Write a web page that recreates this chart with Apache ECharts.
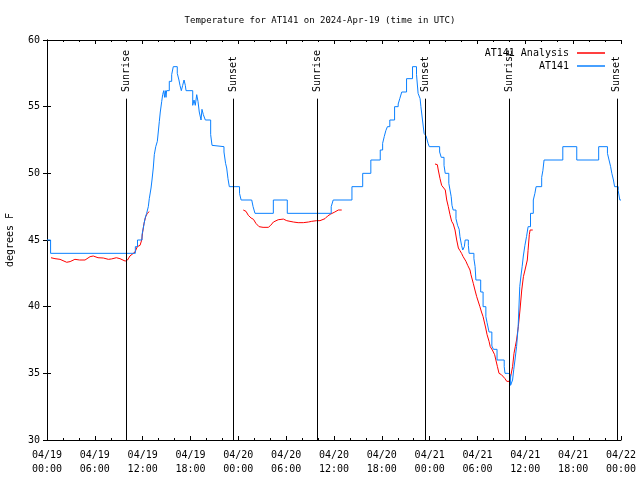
<!DOCTYPE html>
<html><head><meta charset="utf-8">
<script src="https://cdn.jsdelivr.net/npm/echarts@6/dist/echarts.min.js"></script>
<style>html,body{margin:0;padding:0;background:#fff}#c{width:640px;height:480px}</style>
</head><body><div id="c"></div>
<script>
// hours since 2024-04-19 00:00 UTC
const xTickLabels = ['04/19\n00:00','04/19\n06:00','04/19\n12:00','04/19\n18:00',
  '04/20\n00:00','04/20\n06:00','04/20\n12:00','04/20\n18:00',
  '04/21\n00:00','04/21\n06:00','04/21\n12:00','04/21\n18:00','04/22\n00:00'];
const sunTimes = [9.95, 23.37, 33.92, 47.47, 57.99, 71.48];
const sunNames = ['Sunrise','Sunset','Sunrise','Sunset','Sunrise','Sunset'];

// AT141 Analysis (three segments, null = gap)
const redTimes = [0.5,1.0,1.63,2.47,2.9,3.5,4.1,4.77,5.4,5.8,6.4,7.06,7.7,8.1,8.7,9.15,9.8,10.1,10.4,10.62,11.04,11.33,11.67,11.88,12.0,12.17,12.38,12.58,12.83,
  13.0,
  24.62,24.96,25.25,25.6,25.9,26.2,26.6,27.1,27.76,28.06,28.4,28.6,29.0,29.65,30.07,30.48,30.9,31.5,32.15,32.8,33.2,33.83,34.24,34.87,35.2,35.6,36.1,36.54,36.97,
  38.0,
  48.67,48.96,49.08,49.3,49.5,49.7,49.96,50.14,50.34,50.55,50.76,50.96,51.18,51.39,51.6,51.8,52.0,52.2,52.55,52.77,53.06,53.18,53.47,53.68,53.9,54.3,54.5,54.7,55.03,55.2,55.45,55.6,55.86,56.15,56.5,56.7,57.0,57.45,57.67,57.87,58.0,58.17,58.4,58.58,58.74,58.9,59.12,59.33,59.55,59.76,59.96,60.25,60.34,60.5,60.6,60.93];
const redTemps = [43.67,43.6,43.55,43.33,43.38,43.55,43.5,43.5,43.75,43.8,43.67,43.65,43.55,43.58,43.67,43.6,43.42,43.5,43.8,43.95,44.1,44.5,44.6,45.0,45.6,46.25,46.75,47.0,47.13,
  null,
  47.25,47.15,46.85,46.65,46.55,46.25,46.0,45.95,45.95,46.1,46.35,46.45,46.52,46.57,46.45,46.4,46.35,46.3,46.3,46.35,46.4,46.45,46.45,46.6,46.8,46.95,47.1,47.25,47.25,
  null,
  50.7,50.65,50.25,49.6,49.1,49.0,48.75,48.0,47.5,46.9,46.4,46.2,45.75,45.0,44.4,44.2,44.0,43.75,43.4,43.1,42.75,42.4,41.75,41.25,40.75,40.0,39.6,39.25,38.4,37.9,37.4,37.0,36.75,36.4,35.5,35.0,34.9,34.6,34.4,34.3,34.4,34.8,35.5,36.5,37.0,37.5,38.5,39.75,41.25,42.25,42.75,43.5,44.2,45.4,45.75,45.75];

// AT141 observations (step: value holds until next time)
const blueTimes = [0,0.45,11.08,11.35,11.92,12.08,12.29,12.5,12.71,12.83,13.05,13.17,13.33,13.46,13.64,13.84,14.09,14.21,14.39,14.51,14.64,14.75,14.84,14.93,15.0,15.34,15.64,15.84,16.34,16.55,16.68,16.85,17.02,17.19,17.35,17.44,18.28,18.44,18.6,18.78,18.94,19.1,19.32,19.44,19.61,19.86,20.53,20.7,20.86,22.2,22.4,22.54,22.7,22.87,
  24.15,24.35,25.68,25.85,26.09,28.39,30.14,35.65,35.9,38.25,39.6,40.62,41.8,42.1,42.3,42.5,42.7,43.0,43.6,44.05,44.25,44.5,45.1,45.85,46.35,46.55,46.8,46.9,47.1,47.3,47.55,47.8,47.95,
  49.25,49.45,49.8,49.95,50.4,50.55,50.7,50.8,50.95,51.3,51.5,51.7,51.8,52.0,52.15,52.35,52.45,52.85,52.95,53.55,53.7,53.8,54.4,54.7,55.05,55.2,55.45,55.8,56.0,56.45,57.35,57.45,57.85,58.15,58.3,58.4,58.55,58.7,58.9,59.1,59.3,59.45,59.6,59.75,59.95,60.15,60.35,60.65,61.0,61.2,61.35,62.05,62.2,62.35,64.7,66.45,69.2,70.3,70.5,70.7,70.85,71.05,71.2,71.65,71.85,72];
const blueTemps = [45,44,44.5,45,45.4,45.9,46.6,47,47.5,48.1,48.9,49.5,50.4,51.4,52,52.4,53.9,54.6,55.4,55.9,56.2,55.7,56.2,55.7,56.2,56.9,57.4,58,57.5,57,56.6,56.2,56.6,57,56.6,56.2,55.1,55.5,55.1,55.9,55.4,54.6,54,54.8,54.4,54,52.9,52.1,52,51.6,50.75,50.4,49.6,49,
  48.5,48,47.9,47.5,47,48,47,47.5,48,49,50,51,51.75,52.25,52.75,53.2,53.5,54,55,55.2,55.6,56.1,57.1,58,57.4,56,55.6,55,54,53,52.8,52.25,52,
  51.6,51.2,50.6,50,49.25,48.75,48.25,47.6,47.25,46.6,46.1,45.8,45.25,44.6,44.25,44.5,45,44.6,44,43.6,43,42,41.1,40,39.25,38.8,38.1,37.05,36.8,36,35.5,35,34.9,34.1,34,34.5,35.3,36,37,38.5,41.5,42.3,43,43.8,44.6,45.25,46,47,48,48.5,49,49.7,50.2,51,52,51,52,51.5,51,50.5,50,49.5,49,48.7,48,48];

const FONT = 'DejaVu Sans Mono';
const FS = 10;
const redData = redTimes.map((t, i) => [t, redTemps[i]]);
const blueData = blueTimes.map((t, i) => [t, blueTemps[i]]);

const chart = echarts.init(document.getElementById('c'), null, {renderer: 'canvas'});
const axisCommon = {
  axisLine: {show: true, lineStyle: {color: '#000', width: 1}},
  splitLine: {show: false}
};
chart.setOption({
  animation: false,
  backgroundColor: '#fff',
  textStyle: {fontFamily: FONT, fontSize: FS, color: '#000'},
  title: {text: 'Temperature for AT141 on 2024-Apr-19 (time in UTC)', left: 'center', top: 11,
    textStyle: {fontFamily: FONT, fontSize: 9, fontWeight: 'normal', color: '#000'}},
  legend: [
    {data: ['AT141 Analysis'], right: 30, top: 43, align: 'right', icon: 'rect', itemWidth: 28, itemHeight: 1.5,
      textStyle: {fontFamily: FONT, fontSize: FS, color: '#000', padding: [0, 3, 0, 0]}},
    {data: ['AT141'], right: 30, top: 56, align: 'right', icon: 'rect', itemWidth: 28, itemHeight: 1.5,
      textStyle: {fontFamily: FONT, fontSize: FS, color: '#000', padding: [0, 3, 0, 0]}}
  ],
  grid: {left: 47, right: 19, top: 40, bottom: 40, containLabel: false, outerBoundsMode: 'none'},
  xAxis: [
    Object.assign({type: 'value', min: 0, max: 72, interval: 6, position: 'bottom',
      axisTick: {show: true, inside: true, length: 4, lineStyle: {color: '#000'}},
      minorTick: {show: true, splitNumber: 3, length: 2, lineStyle: {color: '#000'}},
      axisLabel: {show: true, margin: 8, fontFamily: FONT, fontSize: FS, color: '#000', lineHeight: 14,
        showMinLabel: true, showMaxLabel: true,
        formatter: v => xTickLabels[Math.round(v / 6)]}}, axisCommon),
    Object.assign({type: 'value', min: 0, max: 72, interval: 6, position: 'top',
      axisTick: {show: true, inside: true, length: 4, lineStyle: {color: '#000'}},
      minorTick: {show: true, splitNumber: 3, length: 2, lineStyle: {color: '#000'}},
      axisLabel: {show: false}}, axisCommon)
  ],
  yAxis: [
    Object.assign({type: 'value', min: 30, max: 60, interval: 5, position: 'left',
      name: 'degrees F', nameLocation: 'middle', nameGap: 32,
      nameTextStyle: {fontFamily: FONT, fontSize: FS, color: '#000'},
      axisTick: {show: true, inside: true, length: 4, lineStyle: {color: '#000'}},
      axisLabel: {show: true, margin: 7, fontFamily: FONT, fontSize: FS, color: '#000'}}, axisCommon),
    Object.assign({type: 'value', min: 30, max: 60, interval: 5, position: 'right',
      axisTick: {show: true, inside: true, length: 4, lineStyle: {color: '#000'}},
      axisLabel: {show: false}}, axisCommon)
  ],
  series: [
    {name: 'AT141 Analysis', type: 'line', data: redData, showSymbol: false, symbol: 'none',
      connectNulls: false, color: '#ff0000', lineStyle: {color: '#ff0000', width: 1}},
    {name: 'AT141', type: 'line', data: blueData, step: 'end', showSymbol: false, symbol: 'none',
      color: '#0a80ff', lineStyle: {color: '#0a80ff', width: 1},
      markLine: {silent: true, symbol: 'none', label: {show: false},
        lineStyle: {color: '#000', width: 1, type: 'solid'},
        data: sunTimes.map(t => [{coord: [t, 55.6]}, {coord: [t, 30]}])},
      markPoint: {silent: true, symbol: 'circle', symbolSize: 0,
        data: sunTimes.map((t, i) => ({coord: [t, 56.1], value: sunNames[i]})),
        label: {show: true, position: 'inside', rotate: 90, align: 'left', verticalAlign: 'middle',
          fontFamily: FONT, fontSize: FS, color: '#000', formatter: p => p.value}}}
  ]
});
</script></body></html>
